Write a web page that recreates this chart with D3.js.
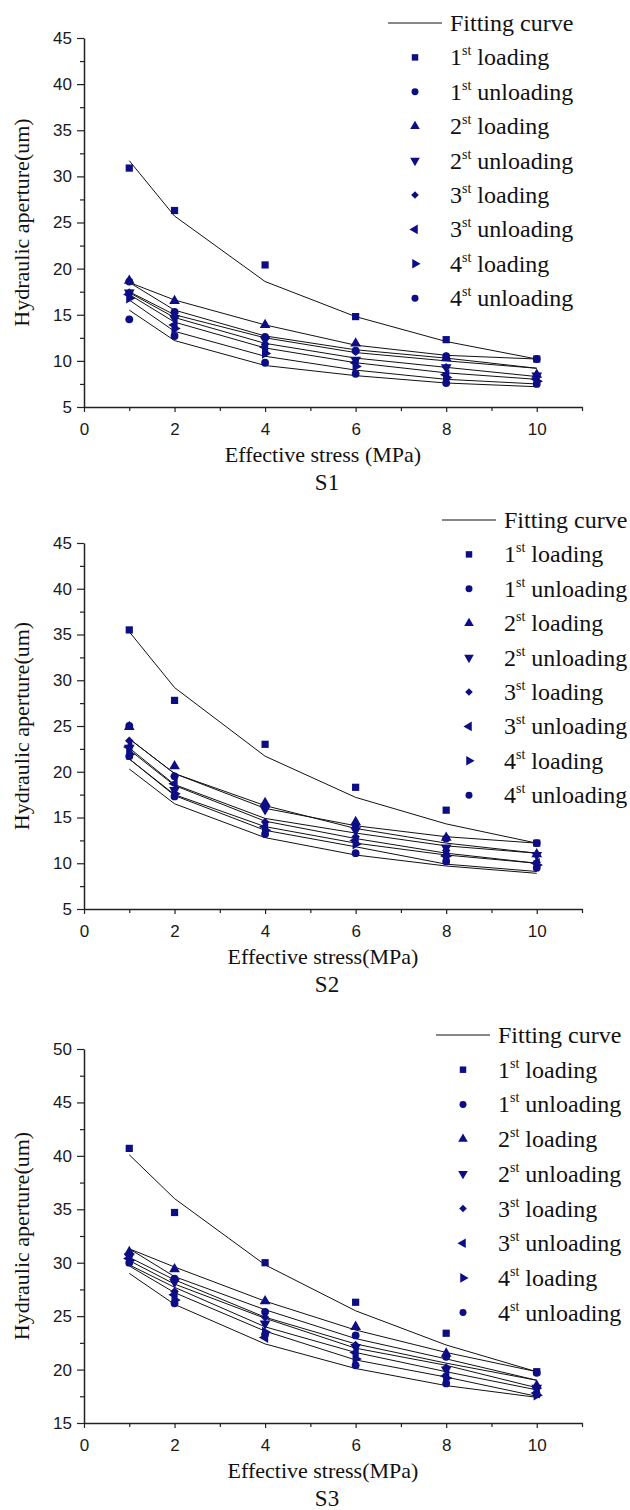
<!DOCTYPE html>
<html>
<head>
<meta charset="utf-8">
<script src="https://cdn.jsdelivr.net/npm/d3@7"></script>
<style>
  html, body { margin: 0; padding: 0; background: #fff; }
  svg { display: block; }
</style>
</head>
<body>
<script>
// effective stress steps (MPa)
const stress = [1, 2, 4, 6, 8, 10];

// legend entries, in drawing order
const ordinals = ["1", "1", "2", "2", "3", "3", "4", "4"];
const phases = ["loading", "unloading", "loading", "unloading", "loading", "unloading", "loading", "unloading"];

// S1 measured hydraulic aperture (um), one row per series
const s1Measured = [
  [30.9, 26.3, 20.4, 14.8, 12.3, 10.2],
  [18.6, 15.3, 12.6, 11.1, 10.5, 10.2],
  [18.7, 16.5, 13.9, 11.9, 10.3, 8.5],
  [17.4, 14.6, 12.3, 10.1, 9.3, 8.4],
  [17.4, 15.2, 11.8, 11.0, 9.3, 8.3],
  [17.2, 13.9, 11.5, 9.8, 8.5, 8.0],
  [16.8, 13.5, 10.8, 9.4, 8.2, 7.8],
  [14.5, 12.7, 9.8, 8.6, 7.6, 7.5]
];
const s1Fitted = [
  [31.7, 25.7, 18.6, 14.8, 12.1, 10.2],
  [18.5, 16.6, 13.9, 11.7, 10.6, 10.2],
  [18.5, 15.5, 12.7, 11.2, 10.3, 9.2],
  [17.5, 15.0, 12.5, 10.9, 10.0, 9.2],
  [17.4, 14.7, 11.9, 10.3, 9.3, 8.3],
  [17.2, 14.2, 11.4, 9.8, 8.7, 8.0],
  [16.6, 13.2, 10.5, 9.0, 8.0, 7.5],
  [15.5, 12.2, 9.5, 8.4, 7.6, 7.2]
];

// S2
const s2Measured = [
  [35.5, 27.8, 23.0, 18.3, 15.8, 12.2],
  [25.0, 19.5, 16.3, 14.2, 12.7, 12.2],
  [24.9, 20.6, 16.6, 14.5, 12.8, 11.0],
  [22.6, 18.0, 15.9, 13.6, 11.7, 10.9],
  [23.4, 19.5, 14.5, 12.9, 11.4, 10.1],
  [22.7, 18.7, 14.0, 12.5, 10.8, 10.0],
  [21.9, 17.6, 13.6, 12.1, 10.8, 9.8],
  [21.7, 17.3, 13.2, 11.1, 10.2, 9.5]
];
const s2Fitted = [
  [35.3, 29.2, 21.7, 17.2, 14.3, 12.2],
  [23.6, 19.8, 16.0, 14.1, 12.9, 12.2],
  [23.6, 19.8, 16.3, 13.8, 12.2, 11.1],
  [22.6, 18.6, 14.9, 13.3, 11.9, 11.1],
  [22.4, 18.5, 14.6, 12.7, 11.1, 10.0],
  [21.4, 17.5, 14.0, 12.2, 10.9, 10.0],
  [21.4, 17.4, 13.6, 11.8, 9.9, 9.1],
  [20.3, 16.5, 12.8, 10.9, 9.7, 8.9]
];

// S3
const s3Measured = [
  [40.7, 34.7, 30.0, 26.3, 23.4, 19.8],
  [30.8, 28.5, 25.4, 23.2, 21.2, 19.7],
  [31.0, 29.4, 26.4, 24.0, 21.5, 18.5],
  [30.6, 28.2, 24.3, 22.1, 20.0, 18.3],
  [30.8, 27.3, 24.9, 22.3, 20.2, 18.2],
  [30.4, 27.0, 23.0, 21.6, 19.4, 17.8],
  [30.2, 26.5, 23.5, 21.0, 19.2, 17.6],
  [30.0, 26.2, 23.3, 20.4, 18.7, 17.7]
];
const s3Fitted = [
  [40.1, 36.0, 29.8, 25.5, 22.3, 19.8],
  [31.3, 29.6, 26.4, 23.7, 21.6, 19.8],
  [31.3, 28.7, 25.6, 22.9, 21.0, 19.0],
  [30.5, 28.4, 24.9, 22.4, 20.6, 19.0],
  [30.2, 28.0, 24.8, 22.0, 20.4, 18.3],
  [29.8, 27.7, 24.0, 21.6, 19.8, 18.1],
  [29.7, 27.2, 23.6, 20.9, 19.3, 17.5],
  [29.0, 26.1, 22.4, 20.1, 18.5, 17.4]
];

const markColor = "#0d0d86";
const serif = "'Liberation Serif', 'Times New Roman', serif";
const sans = "'Liberation Sans', Arial, sans-serif";

// marker shape + rotation per series
const shapes = [
  { type: d3.symbolSquare, size: 52, rot: 0 },
  { type: d3.symbolCircle, size: 48, rot: 0 },
  { type: d3.symbolTriangle, size: 50, rot: 0 },
  { type: d3.symbolTriangle, size: 50, rot: 180 },
  { type: d3.symbolSquare, size: 36, rot: 45 },
  { type: d3.symbolTriangle, size: 50, rot: -90 },
  { type: d3.symbolTriangle, size: 50, rot: 90 },
  { type: d3.symbolCircle, size: 48, rot: 0 }
];

const svg = d3.select("body").append("svg")
  .attr("width", 630)
  .attr("height", 1510);

function drawPanel(cfg) {
  const x = d3.scaleLinear().domain([0, 11]).range([84, 582]);
  const y = d3.scaleLinear().domain(cfg.yDomain).range([cfg.bottom, cfg.top]);
  const g = svg.append("g");

  // minor ticks first
  g.append("g")
    .attr("transform", `translate(0,${cfg.bottom})`)
    .call(d3.axisBottom(x).tickValues([1, 3, 5, 7, 9, 11]).tickFormat("").tickSize(4).tickSizeOuter(0))
    .call(a => a.select(".domain").remove());
  g.append("g")
    .attr("transform", "translate(84,0)")
    .call(d3.axisLeft(y).tickValues(d3.range(cfg.yDomain[0] + 2.5, cfg.yDomain[1], 5)).tickFormat("").tickSize(4).tickSizeOuter(0))
    .call(a => a.select(".domain").remove());

  const xAxis = g.append("g")
    .attr("transform", `translate(0,${cfg.bottom})`)
    .call(d3.axisBottom(x).tickValues([0, 2, 4, 6, 8, 10]).tickSize(5).tickSizeOuter(0).tickPadding(11));
  const yAxis = g.append("g")
    .attr("transform", "translate(84,0)")
    .call(d3.axisLeft(y).tickValues(d3.range(cfg.yDomain[0], cfg.yDomain[1] + 1, 5)).tickSize(7).tickSizeOuter(0).tickPadding(5));

  g.selectAll(".domain").attr("stroke", "#222").attr("stroke-width", 1.5);
  g.selectAll(".tick line").attr("stroke", "#222").attr("stroke-width", 1.2);
  [xAxis, yAxis].forEach(a => a.selectAll("text")
    .attr("font-family", sans)
    .attr("font-size", 17)
    .attr("fill", "#1a1a1a"));

  // fitted curves
  const line = d3.line().x((d, i) => x(stress[i])).y(d => y(d));
  g.append("g")
    .selectAll("path")
    .data(cfg.fitted)
    .join("path")
    .attr("fill", "none")
    .attr("stroke", "#111")
    .attr("stroke-width", 1)
    .attr("d", line);

  // measured points
  cfg.measured.forEach((row, s) => {
    const sym = d3.symbol().type(shapes[s].type).size(shapes[s].size);
    g.append("g")
      .selectAll("path")
      .data(row)
      .join("path")
      .attr("fill", markColor)
      .attr("transform", (d, i) => `translate(${x(stress[i])},${y(d)}) rotate(${shapes[s].rot})`)
      .attr("d", sym());
  });

  // axis titles
  g.append("text")
    .attr("transform", `translate(29,${(cfg.top + cfg.bottom) / 2}) rotate(-90)`)
    .attr("text-anchor", "middle")
    .attr("font-family", serif)
    .attr("font-size", 22)
    .attr("fill", "#111")
    .text("Hydraulic aperture(um)");

  g.append("text")
    .attr("x", 323)
    .attr("y", cfg.bottom + 55)
    .attr("text-anchor", "middle")
    .attr("font-family", serif)
    .attr("font-size", 22)
    .attr("fill", "#111")
    .text(cfg.xTitle);

  g.append("text")
    .attr("x", 327)
    .attr("y", cfg.bottom + 83)
    .attr("text-anchor", "middle")
    .attr("font-family", serif)
    .attr("font-size", 23)
    .attr("fill", "#111")
    .text(cfg.label);

  // legend
  const lg = g.append("g").attr("transform", `translate(${cfg.legendX},${cfg.legendY})`);
  lg.append("line")
    .attr("x1", 0).attr("x2", 54)
    .attr("y1", 0).attr("y2", 0)
    .attr("stroke", "#111").attr("stroke-width", 1);
  lg.append("text")
    .attr("x", 62).attr("y", 8)
    .attr("font-family", serif)
    .attr("font-size", 24)
    .attr("fill", "#111")
    .text("Fitting curve");

  const rows = lg.selectAll("g.row")
    .data(ordinals.map((o, i) => ({ o, p: phases[i], i })))
    .join("g")
    .attr("class", "row")
    .attr("transform", d => `translate(0,${cfg.legendStep * (d.i + 1)})`);

  rows.append("path")
    .attr("fill", markColor)
    .attr("transform", d => `translate(27,0) rotate(${shapes[d.i].rot})`)
    .attr("d", d => d3.symbol().type(shapes[d.i].type).size(shapes[d.i].size * 0.8)());

  const t = rows.append("text")
    .attr("x", 62).attr("y", 8)
    .attr("font-family", serif)
    .attr("font-size", 24)
    .attr("fill", "#111");
  t.append("tspan").text(d => d.o);
  t.append("tspan").attr("font-size", 14).attr("dy", -10).text("st");
  t.append("tspan").attr("dy", 10).attr("dx", 6).text(d => d.p);
}

drawPanel({
  measured: s1Measured, fitted: s1Fitted, yDomain: [5, 45],
  top: 38, bottom: 407, xTitle: "Effective stress (MPa)", label: "S1",
  legendX: 388, legendY: 23, legendStep: 34.4
});
drawPanel({
  measured: s2Measured, fitted: s2Fitted, yDomain: [5, 45],
  top: 543, bottom: 909, xTitle: "Effective stress(MPa)", label: "S2",
  legendX: 442, legendY: 520, legendStep: 34.4
});
drawPanel({
  measured: s3Measured, fitted: s3Fitted, yDomain: [15, 50],
  top: 1049, bottom: 1423, xTitle: "Effective stress(MPa)", label: "S3",
  legendX: 436, legendY: 1035, legendStep: 34.7
});
</script>
</body>
</html>
